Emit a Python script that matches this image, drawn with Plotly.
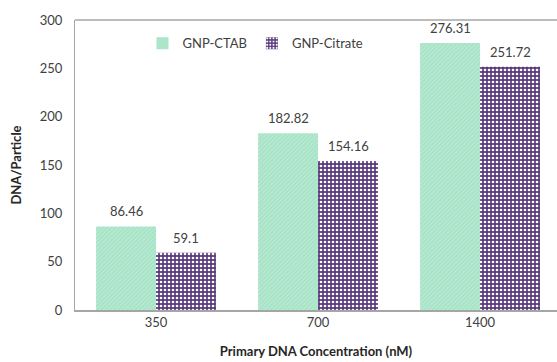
import plotly.graph_objects as go

# Primary DNA concentration groups and DNA loading per particle
concentrations = ["350", "700", "1400"]
ctab_values = [86.46, 182.82, 276.31]
citrate_values = [59.1, 154.16, 251.72]
ctab_labels = ["86.46", "182.82", "276.31"]
citrate_labels = ["59.1", "154.16", "251.72"]
y_ticks = [0, 50, 100, 150, 200, 250, 300]

FONT = "Lato, 'Open Sans', sans-serif"
TEXT_COLOR = "#404040"
BAR_GAP = 0.26
HALF_BAR = (1 - BAR_GAP) / 4  # centre offset of each bar within its group

fig = go.Figure()

fig.add_trace(go.Bar(
    name="GNP-CTAB",
    x=concentrations,
    y=ctab_values,
    marker=dict(
        color="#a6e3c6",
        line=dict(width=0),
        pattern=dict(shape="/", fgcolor="#c2edd8", bgcolor="#a6e3c6",
                     size=3, solidity=0.3, fillmode="replace"),
    ),
))

fig.add_trace(go.Bar(
    name="GNP-Citrate",
    x=concentrations,
    y=citrate_values,
    marker=dict(
        color="#5a3a7c",
        line=dict(width=0),
        pattern=dict(shape=".", fgcolor="#ffffff", bgcolor="#5a3a7c",
                     size=4, solidity=0.35, fillmode="replace"),
    ),
))

# Value labels above each bar
for i, cat in enumerate(concentrations):
    for vals, labels, sign in ((ctab_values, ctab_labels, -1),
                               (citrate_values, citrate_labels, 1)):
        fig.add_annotation(
            x=i + sign * HALF_BAR, y=vals[i], xref="x", yref="y",
            text=labels[i], showarrow=False,
            yanchor="middle", yshift=15,
            font=dict(family=FONT, size=13, color=TEXT_COLOR),
        )

# Top border of the plot area
fig.add_shape(type="line", xref="paper", yref="paper",
              x0=0, x1=1, y0=1, y1=1,
              line=dict(color="#a6a6a6", width=1.5))

fig.update_layout(
    width=557,
    height=362,
    margin=dict(l=75, r=0, t=20, b=52),
    paper_bgcolor="white",
    plot_bgcolor="white",
    barmode="group",
    bargap=BAR_GAP,
    bargroupgap=0,
    font=dict(family=FONT, size=13, color="#595959"),
    legend=dict(
        orientation="h",
        x=0.14, y=0.92,
        xanchor="left", yanchor="middle",
        font=dict(family=FONT, size=13, color=TEXT_COLOR),
        bgcolor="rgba(0,0,0,0)",
    ),
    showlegend=True,
)

fig.update_xaxes(
    type="category",
    range=[-0.5, 2.475],
    showline=True,
    linecolor="#a6a6a6",
    linewidth=1.5,
    ticks="",
    showgrid=False,
    tickfont=dict(family=FONT, size=13, color="#404040"),
    title=dict(text="<b>Primary DNA Concentration (nM)</b>",
               font=dict(family=FONT, size=13, color="#262626"),
               standoff=18),
)

fig.update_yaxes(
    range=[0, 300],
    tickvals=y_ticks,
    showline=True,
    linecolor="#a6a6a6",
    linewidth=1,
    ticks="",
    ticklabelstandoff=9,
    showgrid=False,
    zeroline=False,
    tickfont=dict(family=FONT, size=13, color="#404040"),
    title=dict(text="<b>DNA/Particle</b>",
               font=dict(family=FONT, size=13, color="#262626"),
               standoff=15),
)

fig.write_html("out.html")
